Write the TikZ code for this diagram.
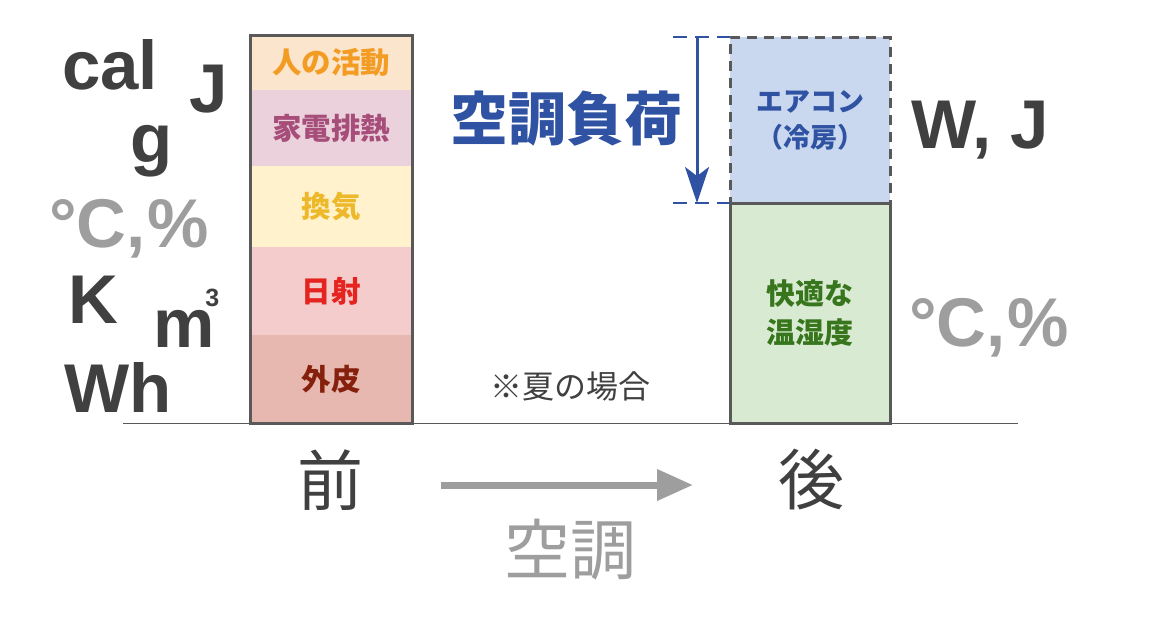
\documentclass[tikz,border=0pt]{standalone}
\usepackage{fontspec}
\setmainfont{Liberation Sans}
\newfontfamily\cjk{Noto Sans CJK JP}
\usetikzlibrary{arrows.meta}
\definecolor{darkt}{HTML}{404040}
\definecolor{grayt}{HTML}{9E9E9E}
\definecolor{edge}{HTML}{595959}
\definecolor{f1}{HTML}{FCE5CD}\definecolor{t1}{HTML}{F39C24}
\definecolor{f2}{HTML}{EAD1DC}\definecolor{t2}{HTML}{A64D79}
\definecolor{f3}{HTML}{FFF2CC}\definecolor{t3}{HTML}{EDB92A}
\definecolor{f4}{HTML}{F4CCCC}\definecolor{t4}{HTML}{E52420}
\definecolor{f5}{HTML}{E6B8AF}\definecolor{t5}{HTML}{85200C}
\definecolor{fb}{HTML}{C9D8EE}\definecolor{tb}{HTML}{2F52A3}
\definecolor{fg}{HTML}{D9EAD3}\definecolor{tg}{HTML}{38761D}
\begin{document}
\begin{tikzpicture}[x=1pt,y=-1pt,
  band/.style={rectangle,inner sep=0pt,outer sep=0pt,minimum width=162pt,align=center,
    font=\cjk\bfseries\fontsize{29.5}{34}\selectfont},
  unit/.style={inner sep=0pt,outer sep=0pt,anchor=base west,font=\bfseries\fontsize{69}{69}\selectfont,text=darkt},
  unitg/.style={unit,text=grayt},
  boxline/.style={draw=edge,line width=3pt},
  jp/.style={inner sep=0pt,font=\cjk\fontsize{66}{66}\selectfont}]
\useasboundingbox (0,0) rectangle (1164,619);
% ground line
\coordinate (g0) at (123,423);
\coordinate (g1) at (1018,423);
\draw[edge,line width=1pt] (g0) -- (g1);
% left stack
\node[band,fill=f1,text=t1,minimum height=55pt] (b1) at (331,62.5) {人の活動};
\node[band,fill=f2,text=t2,minimum height=76pt,anchor=north] (b2) at (b1.south) {家電排熱};
\node[band,fill=f3,text=t3,minimum height=81pt,anchor=north] (b3) at (b2.south) {換気};
\node[band,fill=f4,text=t4,minimum height=88pt,anchor=north] (b4) at (b3.south) {日射};
\node[band,fill=f5,text=t5,minimum height=88pt,anchor=north] (b5) at (b4.south) {外皮};
\draw[boxline] (b1.north west) rectangle (b5.south east);
% right stack
\node[band,minimum width=160pt,fill=fb,text=tb,minimum height=166pt,draw=edge,line width=3pt,dash pattern=on 10pt off 7pt,font=\cjk\bfseries\fontsize{27}{36}\selectfont] (ac) at (810,120) {エアコン\\（冷房）};
\node[band,minimum width=160pt,fill=fg,text=tg,minimum height=220pt,anchor=north,draw=edge,line width=3pt,font=\cjk\bfseries\fontsize{29}{39}\selectfont] (cf) at (ac.south) {快適な\\温湿度};
% load bracket
\coordinate (lt) at (673,37);
\coordinate (lb) at (673,203);
\coordinate (at) at (697,37);
\coordinate (ab) at (697,203);
\draw[tb,line width=2.5pt,dash pattern=on 14pt off 8pt] (lt) -- (ac.north west);
\draw[tb,line width=2.5pt,dash pattern=on 14pt off 8pt] (lb) -- (ac.south west);
\draw[tb,line width=3pt,-{Stealth[length=36pt,width=24pt,inset=9pt]}] (at) -- (ab);
\node[inner sep=0pt,text=tb,font=\cjk\bfseries\fontsize{58}{58}\selectfont] (load) at (566,119) {空調負荷};
% units left
\node[unit] (cal) at (62,89) {cal};
\node[unit] (J1) at (189,112) {J};
\node[unit] (g) at (130,162) {g};
\node[unitg] (degl) at (49,247) {°C,\kern2pt\%};
\node[unit] (K) at (68,323) {K};
\node[unit] (m3) at (153,347) {m\kern-9pt\raisebox{41pt}{\fontsize{25}{25}\selectfont 3}};
\node[unit] (Wh) at (64,412) {Wh};
% units right
\node[unit] (WJ) at (911,148) {W, J};
\node[unitg] (degr) at (909,346) {°C,\kern2pt\%};
% note
\node[inner sep=0pt,text=darkt,font=\cjk\fontsize{32}{32}\selectfont] (note) at (570,386) {※夏の場合};
% before / after
\node[jp,text=darkt] (mae) at (330,480) {前};
\node[jp,text=darkt] (ato) at (811,480) {後};
\coordinate (arrs) at (441,485);
\coordinate (arre) at (693,485);
\draw[grayt,line width=7pt,-{Triangle[length=36pt,width=30pt]}] (arrs) -- (arre);
\node[jp,text=grayt] (kucho) at (570,550) {空調};
\end{tikzpicture}
\end{document}
